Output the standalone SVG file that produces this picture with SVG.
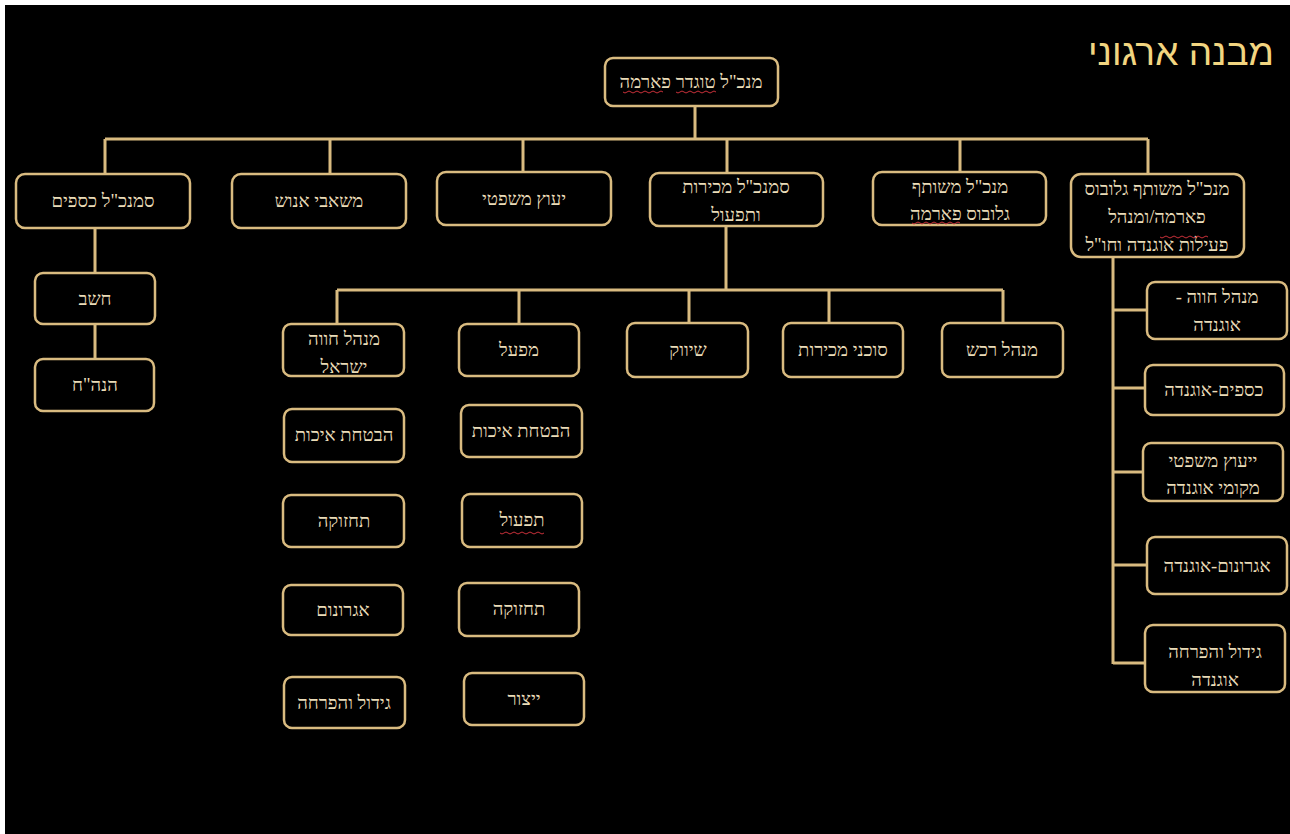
<svg xmlns="http://www.w3.org/2000/svg" width="1290" height="834" viewBox="0 0 1290 834">
<style>
.bx{fill:#000;stroke:#d9bb80;stroke-width:2.5}
.ln{fill:none;stroke:#d9bb80;stroke-width:3}
.t{font-family:"Liberation Serif","DejaVu Serif",serif;font-size:18.5px;fill:#eadcb8;text-anchor:middle;direction:rtl}
.sq{fill:none;stroke:#c8303a;stroke-width:1}
</style>
<rect x="0" y="0" width="1290" height="834" fill="#fff"/>
<rect x="5" y="5" width="1285" height="829" fill="#000"/>
<text x="1181" y="65" font-family="Liberation Sans, DejaVu Sans, sans-serif" font-size="37" fill="#f2d580" text-anchor="middle" direction="rtl">מבנה ארגוני</text>

<g id="connectors">
<path class="ln" d="M695 106V139M105 139H1148M105 139V175M330 139V175M523 139V172M727 139V173M960 139V171M1148 139V174"/>
<path class="ln" d="M95 228V273M95 324V359"/>
<path class="ln" d="M726 226V290M337 290H1003M337 290V324M519 290V324M689 290V323M829 290V323M1003 290V323"/>
<path class="ln" d="M1113 257V664M1113 310H1147M1113 388H1145M1113 472H1143M1113 565H1147M1113 663H1145"/>
</g>

<g id="n-ceo"><rect class="bx" x="605" y="58" width="173" height="48" rx="8"/><text class="t" x="691" y="88">מנכ"ל טוגדר פארמה</text>
<path class="sq" d="M676 92q2 2 4 0t4 0t4 0t4 0t4 0t4 0t4 0t4 0t4 0t4 0M623 92q2 2 4 0t4 0t4 0t4 0t4 0t4 0t4 0t4 0t4 0t4 0"/></g>

<g id="n-cfo"><rect class="bx" x="16" y="174" width="174" height="54" rx="9"/><text class="t" x="103" y="207">סמנכ"ל כספים</text></g>
<g id="n-hr"><rect class="bx" x="232" y="174" width="174" height="54" rx="9"/><text class="t" x="319" y="207">משאבי אנוש</text></g>
<g id="n-legal"><rect class="bx" x="437" y="172" width="174" height="53" rx="9"/><text class="t" x="524" y="205">יעוץ משפטי</text></g>
<g id="n-sales"><rect class="bx" x="650" y="173" width="173" height="53" rx="9"/><text class="t" x="736" y="193">סמנכ"ל מכירות</text><text class="t" x="736" y="221">ותפעול</text></g>
<g id="n-globus"><rect class="bx" x="873" y="172" width="173" height="53" rx="9"/><text class="t" x="960" y="193">מנכ"ל  משותף</text><text class="t" x="960" y="220">גלובוס פארמה</text>
<path class="sq" d="M912 223q2 2 4 0t4 0t4 0t4 0t4 0t4 0t4 0t4 0t4 0t4 0t4 0t4 0"/></g>
<g id="n-uganda"><rect class="bx" x="1071" y="174" width="173" height="83" rx="10"/><text class="t" x="1157" y="195">מנכ"ל משותף גלובוס</text><text class="t" x="1157" y="223">פארמה/ומנהל</text><text class="t" x="1157" y="251">פעילות אוגנדה וחו"ל</text>
<path class="sq" d="M1160 237q2 2 4 0t4 0t4 0t4 0t4 0t4 0t4 0t4 0t4 0t4 0t4 0t4 0"/></g>

<g id="n-accountant"><rect class="bx" x="35" y="273" width="120" height="51" rx="8"/><text class="t" x="95" y="305">חשב</text></g>
<g id="n-bookkeeping"><rect class="bx" x="35" y="359" width="119" height="52" rx="8"/><text class="t" x="95" y="391">הנה"ח</text></g>

<g id="n-farm-il"><rect class="bx" x="283" y="324" width="121" height="52" rx="8"/><text class="t" x="344" y="345">מנהל חווה</text><text class="t" x="344" y="373">ישראל</text></g>
<g id="n-factory"><rect class="bx" x="459" y="324" width="120" height="52" rx="8"/><text class="t" x="519" y="356">מפעל</text></g>
<g id="n-marketing"><rect class="bx" x="627" y="323" width="121" height="54" rx="8"/><text class="t" x="688" y="356">שיווק</text></g>
<g id="n-agents"><rect class="bx" x="783" y="323" width="120" height="54" rx="8"/><text class="t" x="843" y="356">סוכני מכירות</text></g>
<g id="n-purchase"><rect class="bx" x="942" y="323" width="121" height="54" rx="8"/><text class="t" x="1002" y="356">מנהל רכש</text></g>

<g id="n-qa1"><rect class="bx" x="284" y="409" width="120" height="53" rx="8"/><text class="t" x="344" y="441">הבטחת איכות</text></g>
<g id="n-maint1"><rect class="bx" x="283" y="495" width="121" height="52" rx="8"/><text class="t" x="344" y="527">תחזוקה</text></g>
<g id="n-agro1"><rect class="bx" x="283" y="585" width="120" height="50" rx="8"/><text class="t" x="343" y="616">אגרונום</text></g>
<g id="n-grow1"><rect class="bx" x="284" y="677" width="121" height="51" rx="8"/><text class="t" x="344" y="709">גידול והפרחה</text></g>

<g id="n-qa2"><rect class="bx" x="461" y="405" width="121" height="52" rx="8"/><text class="t" x="521" y="437">הבטחת איכות</text></g>
<g id="n-ops"><rect class="bx" x="462" y="494" width="120" height="53" rx="8"/><text class="t" x="522" y="526">תפעול</text>
<path class="sq" d="M500 533q2 2 4 0t4 0t4 0t4 0t4 0t4 0t4 0t4 0t4 0t4 0t4 0"/></g>
<g id="n-maint2"><rect class="bx" x="459" y="583" width="120" height="53" rx="8"/><text class="t" x="519" y="615">תחזוקה</text></g>
<g id="n-prod"><rect class="bx" x="464" y="673" width="120" height="52" rx="8"/><text class="t" x="524" y="705">ייצור</text></g>

<g id="n-farm-ug"><rect class="bx" x="1147" y="282" width="140" height="57" rx="8"/><text class="t" x="1217" y="303">מנהל חווה -</text><text class="t" x="1217" y="331">אוגנדה</text></g>
<g id="n-fin-ug"><rect class="bx" x="1145" y="365" width="139" height="50" rx="8"/><text class="t" x="1214" y="396">כספים-אוגנדה</text></g>
<g id="n-legal-ug"><rect class="bx" x="1143" y="443" width="140" height="58" rx="8"/><text class="t" x="1213" y="467">ייעוץ משפטי</text><text class="t" x="1213" y="494">מקומי אוגנדה</text></g>
<g id="n-agro-ug"><rect class="bx" x="1147" y="537" width="140" height="57" rx="8"/><text class="t" x="1217" y="572">אגרונום-אוגנדה</text></g>
<g id="n-grow-ug"><rect class="bx" x="1145" y="625" width="140" height="67" rx="8"/><text class="t" x="1215" y="658">גידול והפרחה</text><text class="t" x="1215" y="686">אוגנדה</text></g>
</svg>
